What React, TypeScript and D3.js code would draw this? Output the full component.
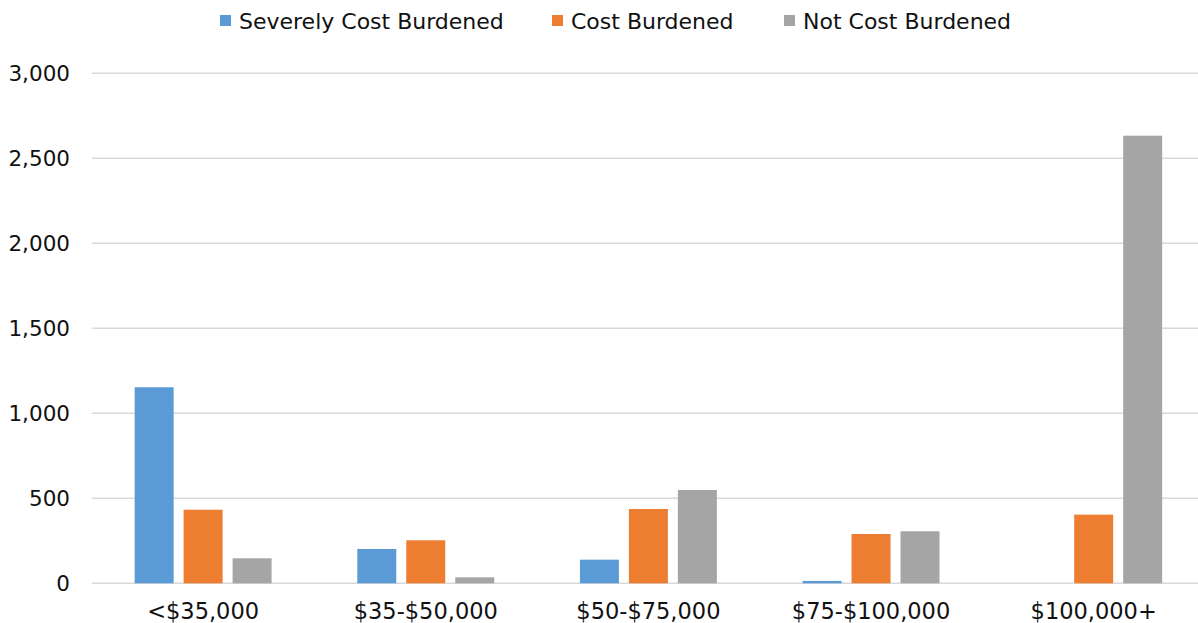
import React from "react";
import * as d3 from "d3";

const categories = ["<$35,000", "$35-$50,000", "$50-$75,000", "$75-$100,000", "$100,000+"];
const seriesNames = ["Severely Cost Burdened", "Cost Burdened", "Not Cost Burdened"];
const severe = [1153, 202, 139, 14, 0];
const burdened = [433, 253, 437, 290, 404];
const notBurdened = [147, 35, 549, 306, 2633];
const yTicks = [0, 500, 1000, 1500, 2000, 2500, 3000];
const colors = ["#5B9BD5", "#ED7D31", "#A5A5A5"];

const W = 1198;
const H = 623;
const FONT = "'DejaVu Sans', sans-serif";

export default function App() {
  const values = [severe, burdened, notBurdened];
  const left = 91.8;
  const right = 1205;
  const y = d3.scaleLinear().domain([0, 3000]).range([583.3, 73.3]);
  const x0 = d3.scaleBand<string>().domain(categories).range([left, right]).paddingInner(0.385).paddingOuter(0.1925);
  const x1 = d3.scaleBand<string>().domain(seriesNames).range([0, x0.bandwidth()]).paddingInner(0.204);
  const fmt = d3.format(",");

  const legendItems = [
    { x: 220, tx: 239 },
    { x: 552, tx: 571 },
    { x: 784, tx: 803 },
  ];

  return (
    <svg width={W} height={H} style={{ position: "absolute", left: 0, top: 0 }} fontFamily={FONT}>
      <rect width={W} height={H} fill="#fff" />
      {yTicks.map((t) => (
        <g key={t}>
          <line x1={left} x2={W} y1={y(t)} y2={y(t)} stroke="#D9D9D9" strokeWidth={1.5} />
          <text x={70} y={y(t)} dy="0.36em" textAnchor="end" fontSize={21.5} fill="#111">
            {fmt(t)}
          </text>
        </g>
      ))}
      {categories.map((c, i) => (
        <g key={c} transform={`translate(${x0(c)},0)`}>
          {seriesNames.map((s, j) => {
            const v = values[j][i];
            if (v <= 0) return null;
            return (
              <rect
                key={s}
                x={x1(s)}
                y={y(v)}
                width={x1.bandwidth()}
                height={y(0) - y(v)}
                fill={colors[j]}
              />
            );
          })}
          <text x={x0.bandwidth() / 2} y={619} textAnchor="middle" fontSize={22.5} fill="#111">
            {c}
          </text>
        </g>
      ))}
      {seriesNames.map((s, j) => (
        <g key={s}>
          <rect x={legendItems[j].x} y={15} width={11} height={11} fill={colors[j]} />
          <text x={legendItems[j].tx} y={21} dy="0.36em" fontSize={22} fill="#111">
            {s}
          </text>
        </g>
      ))}
    </svg>
  );
}
